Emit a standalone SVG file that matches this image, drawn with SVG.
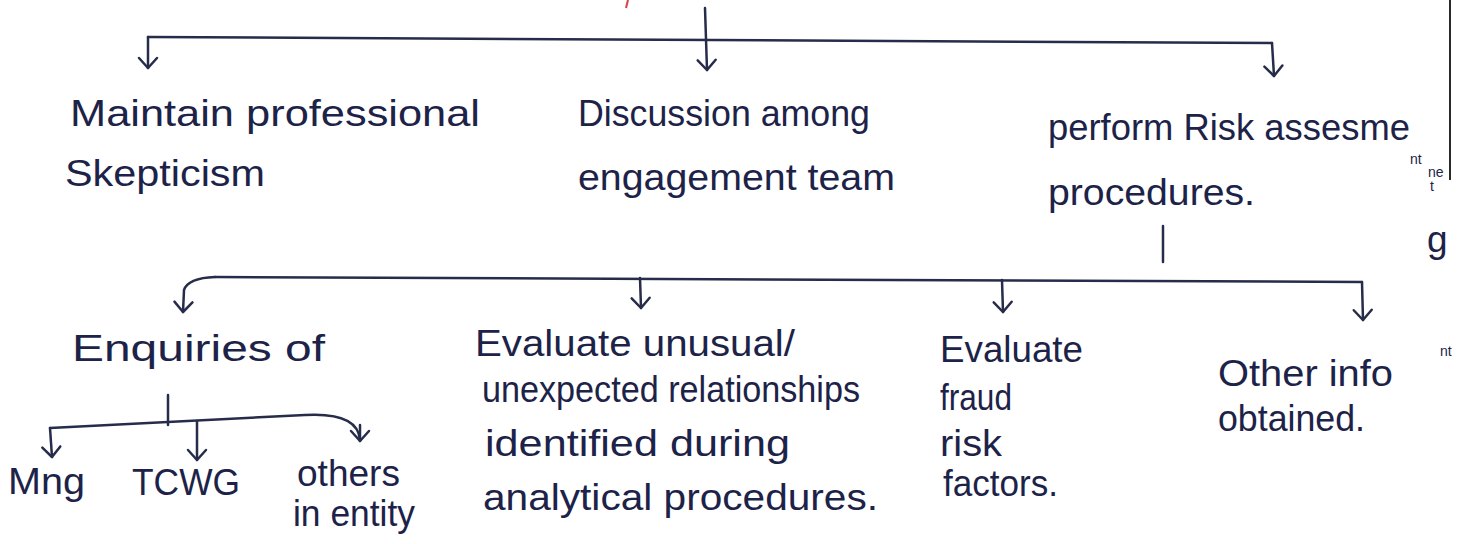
<svg xmlns="http://www.w3.org/2000/svg" width="1463" height="544" viewBox="0 0 1463 544">
<defs>
<style>
.t{font-family:"Liberation Sans","DejaVu Sans",sans-serif;fill:#1d2348;font-size:37px}
.s{font-family:"Liberation Sans","DejaVu Sans",sans-serif;fill:#1d2348;font-size:14px}
.c{fill:none;stroke:#262c4a;stroke-width:2.5;stroke-linecap:round;stroke-linejoin:round}
</style>
<marker id="v" markerUnits="userSpaceOnUse" markerWidth="30" markerHeight="30" viewBox="-15 -15 30 30" refX="0" refY="0" orient="auto">
<path d="M-10,-9 L0,0 L-10,9" fill="none" stroke="#262c4a" stroke-width="2.5" stroke-linecap="round" stroke-linejoin="round"/>
</marker>
</defs>
<rect width="1463" height="544" fill="#ffffff"/>
<path d="M628,0 L626,8" stroke="#d8434a" stroke-width="2" fill="none"/>
<line x1="1450" y1="0" x2="1450" y2="180" stroke="#2a2a2a" stroke-width="2"/>
<g id="connectors">
<path class="c" d="M148,37 L1272,43"/>
<path class="c" d="M148,37 L148,68" marker-end="url(#v)"/>
<path class="c" d="M705,8 L707,70" marker-end="url(#v)"/>
<path class="c" d="M1272,43 L1274,76" marker-end="url(#v)"/>
<path class="c" d="M1163,226 L1163,262"/>
<path class="c" d="M215,277 L1362,282"/>
<path class="c" d="M215,277 Q188,278 184,290 L183,312" marker-end="url(#v)"/>
<path class="c" d="M640,278 L641,308" marker-end="url(#v)"/>
<path class="c" d="M1002,280 L1003,312" marker-end="url(#v)"/>
<path class="c" d="M1362,282 L1363,320" marker-end="url(#v)"/>
<path class="c" d="M168,395 L168,425"/>
<path class="c" d="M50,428 L305,415 Q358,412 360,440" />
<path class="c" d="M360,425 L360,441" marker-end="url(#v)"/>
<path class="c" d="M50,428 L52,457" marker-end="url(#v)"/>
<path class="c" d="M197,421 L197,460" marker-end="url(#v)"/>
</g>
<g id="n1"><text class="t" x="70" y="126" textLength="410" lengthAdjust="spacingAndGlyphs">Maintain professional</text><text class="t" x="65" y="186" textLength="200" lengthAdjust="spacingAndGlyphs">Skepticism</text></g>
<g id="n2"><text class="t" x="578" y="126" textLength="292" lengthAdjust="spacingAndGlyphs">Discussion among</text><text class="t" x="578" y="190" textLength="317" lengthAdjust="spacingAndGlyphs">engagement team</text></g>
<g id="n3"><text class="t" x="1048" y="140" textLength="362" lengthAdjust="spacingAndGlyphs">perform Risk assesme</text><text class="s" x="1410" y="164">nt</text><text class="s" x="1428" y="177">ne</text><text class="s" x="1430" y="191">t</text><text class="t" x="1427" y="252">g</text><text class="t" x="1048" y="205" textLength="207" lengthAdjust="spacingAndGlyphs">procedures.</text></g>
<g id="n4"><text class="t" x="72" y="361" textLength="253" lengthAdjust="spacingAndGlyphs">Enquiries of</text></g>
<g id="n5"><text class="t" x="8" y="494" textLength="77" lengthAdjust="spacingAndGlyphs">Mng</text></g>
<g id="n6"><text class="t" x="132" y="495" textLength="108" lengthAdjust="spacingAndGlyphs">TCWG</text></g>
<g id="n7"><text class="t" x="297" y="486" textLength="103" lengthAdjust="spacingAndGlyphs">others</text><text class="t" x="293" y="526" textLength="122" lengthAdjust="spacingAndGlyphs">in entity</text></g>
<g id="n8"><text class="t" x="475" y="356" textLength="320" lengthAdjust="spacingAndGlyphs">Evaluate unusual/</text><text class="t" x="482" y="402" textLength="378" lengthAdjust="spacingAndGlyphs">unexpected relationships</text><text class="t" x="485" y="456" textLength="305" lengthAdjust="spacingAndGlyphs">identified during</text><text class="t" x="483" y="510" textLength="395" lengthAdjust="spacingAndGlyphs">analytical procedures.</text></g>
<g id="n9"><text class="t" x="940" y="362" textLength="143" lengthAdjust="spacingAndGlyphs">Evaluate</text><text class="t" x="940" y="410" textLength="72" lengthAdjust="spacingAndGlyphs">fraud</text><text class="t" x="940" y="456" textLength="62" lengthAdjust="spacingAndGlyphs">risk</text><text class="t" x="943" y="496" textLength="115" lengthAdjust="spacingAndGlyphs">factors.</text></g>
<g id="n10"><text class="t" x="1218" y="386" textLength="175" lengthAdjust="spacingAndGlyphs">Other info</text><text class="s" x="1440" y="356">nt</text><text class="t" x="1218" y="431" textLength="147" lengthAdjust="spacingAndGlyphs">obtained.</text></g>
</svg>
